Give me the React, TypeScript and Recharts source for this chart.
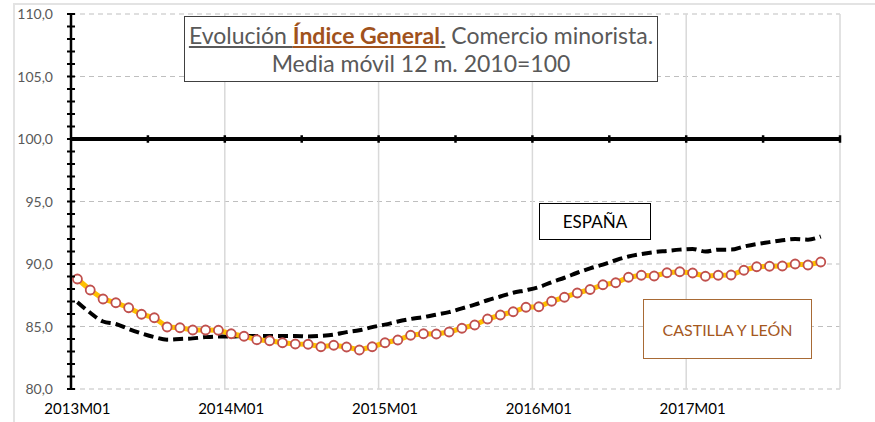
import {
  LineChart,
  Line,
  XAxis,
  YAxis,
  CartesianGrid,
  ReferenceLine,
} from "recharts";

// Meses 2013M01 .. 2017M12 (60 categorías, la última sin dato)
const anios = [2013, 2014, 2015, 2016, 2017];
const meses = anios.flatMap((a) =>
  ["01", "02", "03", "04", "05", "06", "07", "08", "09", "10", "11", "12"].map((m) => `${a}M${m}`)
);

// Castilla y León, media móvil 12 m. (2010=100)
const castillaLeon = [
  88.8, 87.92, 87.2, 86.9, 86.5, 85.98, 85.7, 84.96, 84.9, 84.72, 84.72, 84.7,
  84.42, 84.22, 83.94, 83.86, 83.7, 83.6, 83.58, 83.38, 83.5, 83.36, 83.12, 83.38,
  83.7, 83.92, 84.3, 84.42, 84.4, 84.56, 84.86, 85.12, 85.6, 85.92, 86.18, 86.54,
  86.58, 87.02, 87.34, 87.68, 87.96, 88.34, 88.5, 88.94, 89.1, 89.04, 89.3, 89.38,
  89.28, 89.02, 89.1, 89.12, 89.5, 89.78, 89.82, 89.84, 90.0, 89.92, 90.16,
];

// España
const espana = [
  86.95, 86.1, 85.4, 85.2, 84.8, 84.45, 84.15, 83.95, 84.0, 84.05, 84.15, 84.2,
  84.2, 84.25, 84.25, 84.25, 84.25, 84.25, 84.2, 84.25, 84.35, 84.55, 84.7, 84.95,
  85.15, 85.4, 85.6, 85.75, 85.95, 86.15, 86.45, 86.75, 87.1, 87.4, 87.7, 87.9,
  88.15, 88.55, 88.9, 89.3, 89.65, 89.95, 90.3, 90.6, 90.8, 90.95, 91.05, 91.15,
  91.2, 91.0, 91.15, 91.15, 91.4, 91.6, 91.75, 91.9, 92.0, 91.95, 92.2,
];

const xTicks = [0, 12, 24, 36, 48];
const limitesAnio = [11.5, 23.5, 35.5, 47.5, 59.5];
const marcasEje100 = [5.5, 11.5, 17.5, 23.5, 29.5, 35.5, 41.5, 47.5, 53.5, 59.5];
const yPrincipales = [80, 85, 90, 95, 100, 105, 110];
const yTicks = [
  80, 81, 82, 83, 84, 85, 86, 87, 88, 89, 90, 91, 92, 93, 94, 95,
  96, 97, 98, 99, 100, 101, 102, 103, 104, 105, 106, 107, 108, 109, 110,
];

const chartData = castillaLeon.map((v, i) => ({
  i,
  mes: meses[i],
  cyl: v,
  esp: espana[i],
}));

const FONT = "Lato, 'Open Sans', sans-serif";
const MARGEN_TICK = 18;

const fmt = (v: number) => v.toFixed(1).replace(".", ",");

// Tick del eje Y: marca que cruza el eje en cada unidad, etiqueta cada 5
const YTick = (props: any) => {
  const { x, y, payload } = props;
  const ejeX = x + MARGEN_TICK;
  const principal = yPrincipales.includes(payload.value);
  return (
    <g>
      <line x1={ejeX - 4} x2={ejeX + 4} y1={y} y2={y} stroke="#000" strokeWidth={2} />
      {principal && (
        <text x={x} y={y} dy={5} textAnchor="end" fill="#595959" fontSize={14} fontFamily={FONT}>
          {fmt(payload.value)}
        </text>
      )}
    </g>
  );
};

export default function App() {
  return (
    <div
      style={{
        position: "absolute",
        left: 0,
        top: 0,
        width: 875,
        height: 422,
        overflow: "hidden",
        background: "#fff",
        fontFamily: FONT,
      }}
    >
      {/* borde del área del gráfico */}
      <div
        style={{
          position: "absolute",
          left: 13,
          top: 3,
          width: 900,
          height: 460,
          border: "2px solid #e3e3e3",
        }}
      />

      <div style={{ position: "absolute", left: 0, top: 0 }}>
        <LineChart width={875} height={422} data={chartData} margin={{ top: 14, right: 35, left: 0, bottom: 0 }}>
          <CartesianGrid
            vertical={false}
            horizontalValues={yPrincipales}
            stroke="#bfbfbf"
            strokeDasharray="5 4"
          />
          <CartesianGrid horizontal={false} verticalValues={limitesAnio} stroke="#d9d9d9" strokeWidth={1.5} />
          <XAxis
            type="number"
            dataKey="i"
            domain={[-0.5, 59.5]}
            ticks={xTicks}
            tickFormatter={(i: number) => meses[i]}
            axisLine={false}
            tickLine={false}
            tickSize={0}
            tickMargin={14}
            height={33}
            tick={{ fill: "#000", fontSize: 15, fontFamily: FONT }}
            interval={0}
          />
          <YAxis
            type="number"
            domain={[80, 110]}
            ticks={yTicks}
            interval={0}
            width={71}
            axisLine={{ stroke: "#000", strokeWidth: 2.5 }}
            tickLine={false}
            tickSize={0}
            tickMargin={MARGEN_TICK}
            tick={<YTick />}
          />
          <ReferenceLine y={100} stroke="#000" strokeWidth={4} />
          {marcasEje100.map((m) => (
            <ReferenceLine
              key={m}
              segment={[
                { x: m, y: 99.7 },
                { x: m, y: 100.3 },
              ]}
              stroke="#000"
              strokeWidth={2.5}
            />
          ))}
          <Line
            dataKey="esp"
            type="monotone"
            stroke="#000"
            strokeWidth={4}
            strokeDasharray="10 5"
            dot={false}
            isAnimationActive={false}
          />
          <Line
            dataKey="cyl"
            type="linear"
            stroke="#FFC000"
            strokeWidth={5}
            dot={{ r: 4.5, fill: "#fff", stroke: "#C0504D", strokeWidth: 1.8 }}
            isAnimationActive={false}
          />
        </LineChart>
      </div>

      {/* Título */}
      <div
        style={{
          position: "absolute",
          left: 184,
          top: 16,
          width: 474,
          height: 66,
          border: "1.5px solid #404040",
          background: "#fff",
          color: "#595959",
          fontSize: 23,
          lineHeight: "28px",
          textAlign: "center",
          paddingTop: 4,
          boxSizing: "border-box",
          whiteSpace: "nowrap",
        }}
      >
        <div>
          <span style={{ textDecoration: "underline" }}>Evolución </span>
          <span style={{ textDecoration: "underline", color: "#A0521C", fontWeight: 700 }}>Índice General</span>
          <span style={{ textDecoration: "underline" }}>.</span>
          <span> Comercio minorista.</span>
        </div>
        <div>Media móvil 12 m. 2010=100</div>
      </div>

      {/* Etiqueta España */}
      <div
        style={{
          position: "absolute",
          left: 539,
          top: 203,
          width: 112,
          height: 37,
          border: "1.5px solid #000",
          background: "#fff",
          boxSizing: "border-box",
          display: "flex",
          alignItems: "center",
          justifyContent: "center",
          fontSize: 17,
          color: "#000",
        }}
      >
        ESPAÑA
      </div>

      {/* Etiqueta Castilla y León */}
      <div
        style={{
          position: "absolute",
          left: 643,
          top: 299,
          width: 169,
          height: 60,
          border: "1.5px solid #A86A35",
          background: "#fff",
          boxSizing: "border-box",
          display: "flex",
          alignItems: "center",
          justifyContent: "center",
          fontSize: 16,
          color: "#A5581E",
        }}
      >
        CASTILLA Y LEÓN
      </div>
    </div>
  );
}
